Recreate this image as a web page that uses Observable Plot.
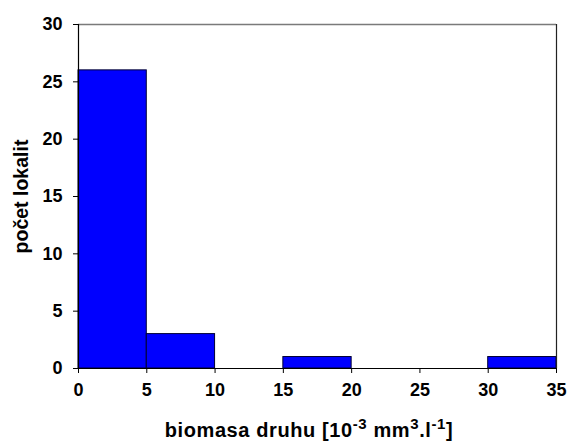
<!DOCTYPE html>
<html>
<head>
<meta charset="utf-8">
<script src="https://cdn.jsdelivr.net/npm/d3@7"></script>
<script src="https://cdn.jsdelivr.net/npm/@observablehq/plot@0.6"></script>
<style>
  html, body { margin: 0; padding: 0; background: #fff; }
</style>
</head>
<body>
<div id="chart"></div>
<script>
const binStart = [0, 5, 10, 15, 20, 25, 30];
const binEnd = [5, 10, 15, 20, 25, 30, 35];
const counts = [26, 3, 0, 1, 0, 0, 1];
const xTicks = [0, 5, 10, 15, 20, 25, 30, 35];
const yTicks = [0, 5, 10, 15, 20, 25, 30];
const yTitle = "počet lokalit";

const bins = binStart.map((s, i) => ({x1: s, x2: binEnd[i], count: counts[i]})).filter(d => d.count > 0);

const font = "'Liberation Sans', Arial, sans-serif";

const chart = Plot.plot({
  width: 569,
  height: 444,
  marginLeft: 78,
  marginRight: 13,
  marginTop: 24,
  marginBottom: 76,
  style: {fontFamily: font, fontWeight: "bold", fontSize: "17px", color: "#000", background: "#fff"},
  x: {domain: [0, 35]},
  y: {domain: [0, 30]},
  marks: [
    Plot.rectY(bins, {x1: "x1", x2: "x2", y: "count", fill: "#0000ff", stroke: "#000033", strokeWidth: 1}),
    Plot.ruleY([30], {stroke: "#7a7a7a", strokeWidth: 1.5}),
    Plot.ruleX([35], {stroke: "#222", strokeWidth: 1.2}),
    Plot.ruleY([0], {stroke: "#000", strokeWidth: 1.2}),
    Plot.ruleX([0], {stroke: "#000", strokeWidth: 1.2}),
    Plot.axisX({ticks: xTicks, tickSize: 5, tickPadding: 10, label: null, fontWeight: "bold", fontSize: 18}),
    Plot.axisY({ticks: yTicks, tickSize: 5, tickPadding: 11, label: null, fontWeight: "bold", fontSize: 18}),
    Plot.text([yTitle], {frameAnchor: "left", rotate: -90, dx: -57, fontSize: 19.5, fontWeight: "bold", textAnchor: "middle"})
  ]
});

document.getElementById("chart").appendChild(chart);

// x-axis title with superscripts
const svg = d3.select(chart);
const t = svg.append("text")
  .attr("x", 309)
  .attr("y", 437)
  .attr("text-anchor", "middle")
  .attr("font-family", font)
  .attr("font-weight", "bold")
  .attr("font-size", 20)
  .attr("letter-spacing", 0.6)
  .attr("fill", "#000");
t.append("tspan").text("biomasa druhu [10");
t.append("tspan").attr("dy", -8).attr("font-size", 15).text("-3");
t.append("tspan").attr("dy", 8).text(" mm");
t.append("tspan").attr("dy", -8).attr("font-size", 15).text("3");
t.append("tspan").attr("dy", 8).text(".l");
t.append("tspan").attr("dy", -8).attr("font-size", 15).text("-1");
t.append("tspan").attr("dy", 8).text("]");
</script>
</body>
</html>
